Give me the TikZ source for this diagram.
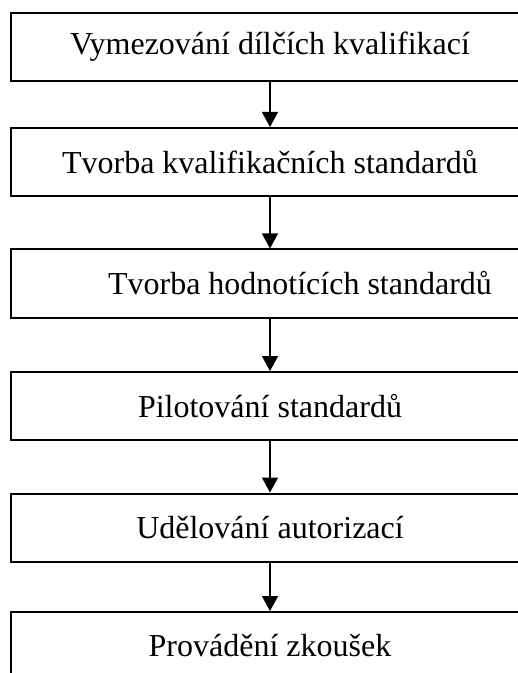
\documentclass[tikz,border=0pt]{standalone}
\usepackage{fontspec}
\setmainfont{Liberation Serif}
\usepackage{tikz}
\usetikzlibrary{arrows.meta}
\tikzset{stepbox/.style={draw,line width=1pt,minimum width=259pt,minimum height=34pt,
  inner sep=0pt,font=\fontsize{16}{19}\selectfont}}
\tikzset{arr/.style={line width=0.7pt,-{Triangle[width=8pt,length=7.5pt]}}}

\begin{document}
\begin{tikzpicture}[x=0.5pt,y=-0.5pt]
        % Page frame, the boxes run past the right and bottom edges
        \fill[white] (0,0) rectangle (518,673);
        \clip (0,0) rectangle (518,673);
        % Steps
        \node[stepbox] (vymezovani) at (270,47) {Vymezování dílčích kvalifikací};
        \node[stepbox] (kvalif) at (270,162) {Tvorba kvalifikačních standardů};
        \node[stepbox] (hodnot) at (270,283.5) {\hspace*{30pt}Tvorba hodnotících standardů};
        \node[stepbox] (pilot) at (270,406) {Pilotování standardů};
        \node[stepbox] (autor) at (270,527.5) {Udělování autorizací};
        \node[stepbox] (zkousky) at (270,646) {Provádění zkoušek};
        % Arrows between the steps
        \draw[arr] (vymezovani) -- (kvalif);
        \draw[arr] (kvalif) -- (hodnot);
        \draw[arr] (hodnot) -- (pilot);
        \draw[arr] (pilot) -- (autor);
        \draw[arr] (autor) -- (zkousky);
    \end{tikzpicture}
\end{document}
